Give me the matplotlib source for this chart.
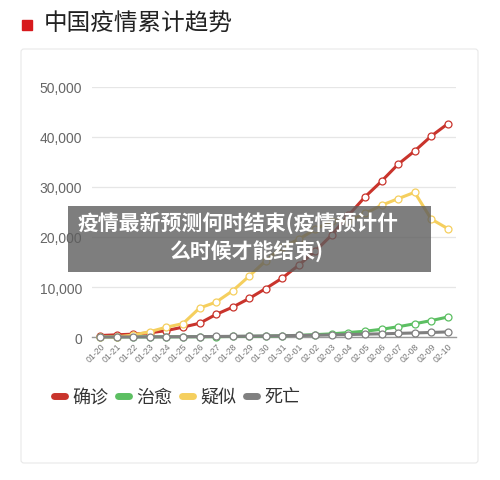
import numpy as np
import matplotlib
matplotlib.use("Agg")
import matplotlib.pyplot as plt
from matplotlib.patches import Rectangle, FancyBboxPatch
from matplotlib.lines import Line2D

plt.rcParams['font.family'] = ['Noto Sans CJK SC', 'DejaVu Sans']

# cumulative figures, 01-20 .. 02-10
dates = ["01-20", "01-21", "01-22", "01-23", "01-24", "01-25", "01-26", "01-27",
         "01-28", "01-29", "01-30", "01-31", "02-01", "02-02", "02-03", "02-04",
         "02-05", "02-06", "02-07", "02-08", "02-09", "02-10"]
confirmed = [291, 440, 571, 830, 1287, 1975, 2744, 4515, 5974, 7711, 9692, 11791,
             14380, 17205, 20438, 24324, 28018, 31161, 34546, 37198, 40171, 42638]
cured = [25, 25, 28, 34, 38, 49, 51, 60, 103, 124, 171, 243,
         328, 475, 632, 892, 1153, 1540, 2050, 2649, 3281, 3996]
suspected = [54, 37, 393, 1072, 1965, 2684, 5794, 6973, 9239, 12167, 15238, 17988,
             19544, 21558, 23214, 23260, 24702, 26359, 27657, 28942, 23589, 21675]
deaths = [6, 9, 17, 25, 41, 56, 80, 106, 132, 170, 213, 259,
          304, 361, 425, 490, 563, 636, 722, 811, 908, 1016]

labels = ["确诊", "治愈", "疑似", "死亡"]
colors = ["#c9342c", "#5cbf62", "#f5cf5e", "#808080"]

W, H = 500, 481
fig = plt.figure(figsize=(W / 100, H / 100), dpi=100)

def px(x0, y0, x1, y1):
    return [x0 / W, 1 - y1 / H, (x1 - x0) / W, (y1 - y0) / H]

# card border (behind the axes)
card = FancyBboxPatch((21 / W, 1 - 464 / H), 457 / W, 414 / H,
                      boxstyle="round,pad=0,rounding_size=0.006",
                      transform=fig.transFigure, fc="white", ec="#e8e8e8", lw=0.8,
                      zorder=-5)
fig.patches.append(card)

# title
fig.patches.append(Rectangle((22 / W, 1 - 31 / H), 10 / W, 10 / H,
                             transform=fig.transFigure, color="#d7191c"))
fig.text(44 / W, 1 - 24 / H, "中国疫情累计趋势", fontsize=17, color="#222222",
         va="center", ha="left")

ax = fig.add_axes(px(92, 88, 456, 338))
ax.patch.set_alpha(0)
x = np.arange(len(dates))
series = [confirmed, cured, suspected, deaths]
order = [2, 0, 1, 3]
for i in order:
    ax.plot(x, series[i], color=colors[i], lw=2.2, marker="o", ms=5,
            mfc="white", mec=colors[i], mew=0.9, clip_on=False, zorder=3 + i)

ax.set_xlim(-0.5, len(dates) - 0.5)
ax.set_ylim(0, 50000)
ax.set_yticks(np.arange(0, 50001, 10000))
ax.set_yticklabels(["{:,}".format(v) for v in range(0, 50001, 10000)],
                   fontfamily="Liberation Sans")
ax.yaxis.grid(True, color="#e6e6e6", lw=0.9)
ax.set_axisbelow(True)
for s in ["top", "right", "left"]:
    ax.spines[s].set_visible(False)
ax.spines["bottom"].set_color("#999999")
ax.spines["bottom"].set_linewidth(1.0)
ax.tick_params(axis="y", length=0, pad=7, labelsize=10, labelcolor="#666666")
ax.set_xticks(x)
ax.set_xticklabels(dates, rotation=45, ha="right", rotation_mode="anchor",
                   fontfamily="Liberation Sans")
ax.tick_params(axis="x", length=0, pad=3, labelsize=6.3, labelcolor="#777777")

# legend
handles = [Line2D([0], [0], color=c, lw=5, solid_capstyle="round") for c in colors]
fig.legend(handles, labels, loc="center left", bbox_to_anchor=(38 / W, 1 - 398 / H),
           ncol=4, frameon=False, fontsize=13, handlelength=0.6, handletextpad=0.4,
           columnspacing=0.55, labelcolor="#333333")

# overlay caption
fig.patches.append(Rectangle((68 / W, 1 - 273 / H), 363 / W, 66 / H,
                             transform=fig.transFigure, fc="#5e5e5e", alpha=0.8,
                             ec="none", zorder=10))
fig.text(238 / W, 1 - 223 / H, "疫情最新预测何时结束(疫情预计什", fontsize=15,
         color="white", weight="bold", ha="center", va="center", zorder=11)
fig.text(246 / W, 1 - 252 / H, "么时候才能结束)", fontsize=15,
         color="white", weight="bold", ha="center", va="center", zorder=11)

fig.savefig("out.png", dpi=100)
